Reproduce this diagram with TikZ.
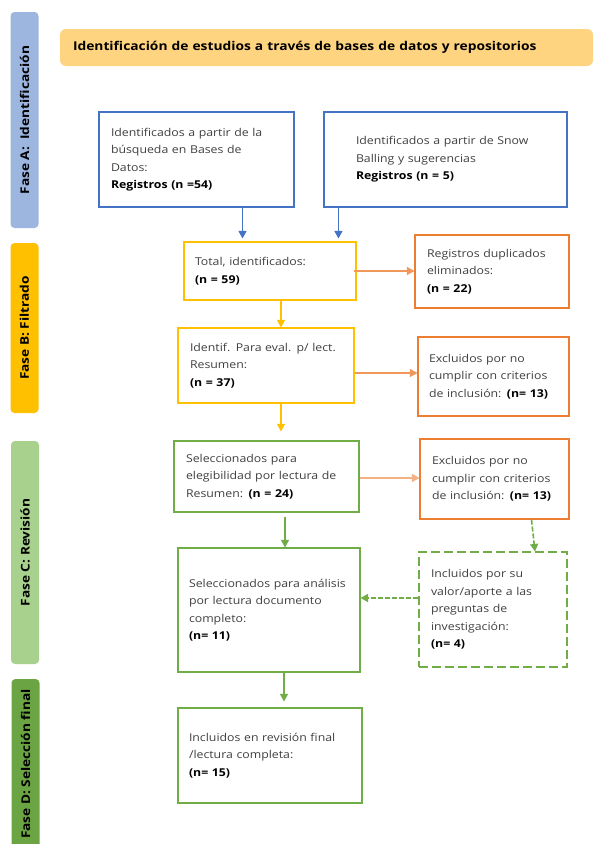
\documentclass[tikz,border=0pt]{standalone}
\usepackage{fontspec}
\setmainfont{Open Sans}[FakeStretch=1.14]
\usetikzlibrary{arrows, arrows.meta, shapes}

\definecolor{azul}{HTML}{4472C4}
\definecolor{oro}{HTML}{FFC000}
\definecolor{naranja}{HTML}{ED7D31}
\definecolor{naranjaclaro}{HTML}{F4B183}
\definecolor{verde}{HTML}{70AD47}
\definecolor{verdeclaro}{HTML}{A9D18E}
\definecolor{azulfase}{HTML}{9DB6E0}
\definecolor{cabecera}{HTML}{FFD480}
\definecolor{texto}{HTML}{404040}

\tikzset{
	box/.style={draw, line width=1.1pt, fill=white, align=left, inner xsep=12pt, inner ysep=0pt,
		text=texto, font=\fontsize{10.8}{17.5}\selectfont},
	phase/.style={rounded corners=4pt, rotate=90, inner sep=0pt, minimum height=28pt,
		font=\fontsize{12}{14}\selectfont\bfseries},
	arr/.style={-{Triangle[length=7.5pt, width=8pt]}, line width=1.1pt}
}

\begin{document}
\begin{tikzpicture}[x=1pt, y=-1pt]
		\clip (0, 0) rectangle (595, 844);
		\fill[white] (0, 0) rectangle (595, 844);

		% fases
		\node[phase, fill=azulfase, minimum width=216pt] (fA) at (24.5, 120) {Fase A:\ \ Identificación};
		\node[phase, fill=oro, minimum width=170pt] (fB) at (24.5, 328) {Fase B: Filtrado};
		\node[phase, fill=verdeclaro, minimum width=223pt] (fC) at (25, 552.5) {Fase C: Revisión};
		\node[phase, fill=verde!95!black, minimum width=170pt] (fD) at (25.5, 764) {Fase D: Selección final};

		\node[fill=cabecera, rounded corners=6pt, minimum width=533pt, minimum height=37pt, text width=507pt,
			inner xsep=13pt, align=left, font=\fontsize{12.1}{14}\selectfont\bfseries] (hdr) at (326.5, 47.5)
			{Identificación de estudios a través de bases de datos y repositorios};

		% identificacion
		\node[box, draw=azul, text width=171pt, minimum height=95pt] (bdb) at (196.5, 159.5)
			{Identificados a partir de la\\búsqueda en Bases de\\Datos:\\\textcolor{black}{\bfseries Registros (n =54)}};
		\node[box, draw=azul, inner xsep=32pt, text width=179pt, minimum height=95pt] (bsb) at (445.5, 159.5)
			{Identificados a partir de Snow\\Balling y sugerencias\\\textcolor{black}{\bfseries Registros (n = 5)}};

		% filtrado
		\node[box, draw=oro, inner xsep=11pt, text width=150pt, minimum height=58pt] (tot) at (270, 271)
			{Total, identificados:\\\textcolor{black}{\bfseries (n = 59)}};
		\node[box, draw=naranja, text width=130pt, minimum height=73pt] (dup) at (492, 271.5)
			{Registros duplicados\\eliminados:\\\textcolor{black}{\bfseries (n = 22)}};
		\node[box, draw=oro, text width=152pt, minimum height=75pt] (idf) at (266, 365.5)
			{Identif. Para eval. p/ lect.\\Resumen:\\\textcolor{black}{\bfseries (n = 37)}};
		\node[box, draw=naranja, inner xsep=11pt, text width=129pt, minimum height=79pt] (exc1) at (493.5, 376.5)
			{Excluidos por no\\cumplir con criterios\\de inclusión: \textcolor{black}{\bfseries (n= 13)}};

		% revision
		\node[box, draw=verde, text width=161pt, minimum height=71pt] (sel) at (266.5, 476.5)
			{Seleccionados para\\elegibilidad por lectura de\\Resumen: \textcolor{black}{\bfseries (n = 24)}};
		\node[box, draw=naranja, text width=125pt, minimum height=80pt] (exc2) at (494.5, 479)
			{Excluidos por no\\cumplir con criterios\\de inclusión: \textcolor{black}{\bfseries (n= 13)}};
		\node[box, draw=verde, inner xsep=11pt, text width=160pt, minimum height=124pt] (ana) at (269, 610)
			{Seleccionados para análisis\\por lectura documento\\completo:\\\textcolor{black}{\bfseries (n= 11)}};
		\node[box, draw=verde, dash pattern=on 9pt off 4pt, text width=124pt, minimum height=115pt] (inc) at (493, 609.5)
			{Incluidos por su\\valor/aporte a las\\preguntas de\\investigación:\\\textcolor{black}{\bfseries (n= 4)}};

		% seleccion final
		\node[box, draw=verde, inner xsep=11pt, text width=162pt, minimum height=95pt] (fin) at (270, 755.5)
			{Incluidos en revisión final\\/lectura completa:\\\textcolor{black}{\bfseries (n= 15)}};

		% flechas
		\draw[arr, azul, shorten >=3pt] ([xshift=46pt]bdb.south) -- ([xshift=46pt]bdb.south |- tot.north);
		\draw[arr, azul, shorten >=3pt] ([xshift=15pt]bsb.south west) -- ([xshift=15pt]bsb.south west |- tot.north);
		\draw[arr, naranja!80] ([xshift=-3pt]tot.east) -- (tot.east -| dup.west);
		\draw[arr, oro] ([xshift=11pt]tot.south) -- ([xshift=11pt]tot.south |- idf.north);
		\draw[arr, naranja!80] ([yshift=-7.5pt]idf.east) -- ([yshift=-7.5pt]idf.east -| exc1.west);
		\draw[arr, oro, shorten >=9pt] ([xshift=15pt]idf.south) -- ([xshift=15pt]idf.south |- sel.north);
		\draw[arr, naranjaclaro] ([yshift=-1.5pt]sel.east) -- ([yshift=-1.5pt]sel.east -| exc2.west);
		\draw[arr, verde, shorten <=4pt] ([xshift=18.5pt]sel.south) -- ([xshift=18.5pt]sel.south |- ana.north);
		\draw[arr, verde, line width=1.6pt, dash pattern=on 5pt off 2pt] ([xshift=37pt]exc2.south) -- ([xshift=42pt]inc.north);
		\draw[arr, verde, line width=1.6pt, dash pattern=on 5pt off 2pt] ([yshift=11.5pt]inc.west) -- ([yshift=11.5pt]inc.west -| ana.east);
		\draw[arr, verde, shorten >=6pt] ([xshift=15pt]ana.south) -- ([xshift=15pt]ana.south |- fin.north);
	\end{tikzpicture}
\end{document}
